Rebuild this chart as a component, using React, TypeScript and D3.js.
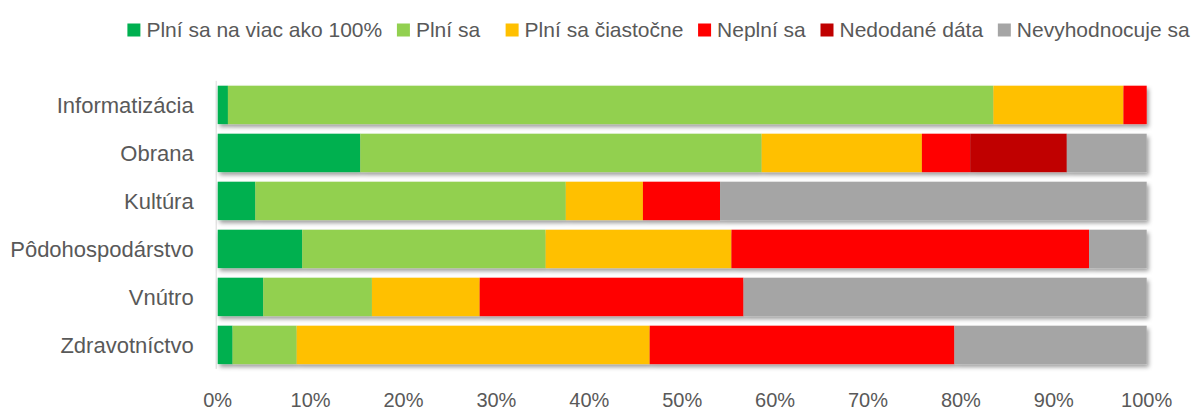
import { useEffect, useRef } from 'react'
import * as d3 from 'd3'

const categories = ['Informatizácia', 'Obrana', 'Kultúra', 'Pôdohospodárstvo', 'Vnútro', 'Zdravotníctvo']

const seriesNames = [
  'Plní sa na viac ako 100%',
  'Plní sa',
  'Plní sa čiastočne',
  'Neplní sa',
  'Nedodané dáta',
  'Nevyhodnocuje sa',
]

const seriesColors = ['#00B050', '#92D050', '#FFC000', '#FF0000', '#C00000', '#A5A5A5']

// per category, in series order (percent)
const overHundred = [1.1, 15.35, 4.05, 9.1, 4.9, 1.6]
const fulfilled = [82.4, 43.2, 33.4, 26.2, 11.7, 6.9]
const partial = [14.0, 17.25, 8.3, 20.0, 11.6, 38.0]
const notFulfilled = [2.5, 5.2, 8.3, 38.5, 28.4, 32.8]
const notDelivered = [0, 10.4, 0, 0, 0, 0]
const notEvaluated = [0, 8.6, 45.9, 6.2, 43.4, 20.7]

const xTicks = [0, 0.1, 0.2, 0.3, 0.4, 0.5, 0.6, 0.7, 0.8, 0.9, 1]

const W = 1196
const H = 407
const FONT = '"Liberation Sans", Arial, sans-serif'
const TEXT = '#595959'

export default function App() {
  const legendRef = useRef<SVGGElement>(null)

  const rows = categories.map((c, i) => ({
    cat: c,
    s0: overHundred[i],
    s1: fulfilled[i],
    s2: partial[i],
    s3: notFulfilled[i],
    s4: notDelivered[i],
    s5: notEvaluated[i],
  }))
  const keys = ['s0', 's1', 's2', 's3', 's4', 's5']
  const stacked = d3.stack<any>().keys(keys).offset(d3.stackOffsetExpand)(rows)

  const x = d3.scaleLinear().domain([0, 1]).range([217.7, 1146.7])
  const y = d3.scaleBand().domain(categories).range([80.9, 368.9]).paddingInner(0.2).paddingOuter(0.1)

  useEffect(() => {
    document.body.style.margin = '0'
    if (!legendRef.current) return
    const g = d3.select(legendRef.current)
    g.selectAll('*').remove()
    let cx = 127.4
    seriesNames.forEach((name, i) => {
      g.append('rect').attr('x', cx).attr('y', 23.5).attr('width', 13).attr('height', 13).attr('fill', seriesColors[i])
      const t = g.append('text').attr('x', cx + 19).attr('y', 37)
        .attr('font-family', FONT).attr('font-size', 21).attr('fill', TEXT).text(name)
      const w = (t.node() as SVGTextElement).getComputedTextLength()
      // Excel leaves a wider gap after the short "Plní sa" entry
      cx += 19 + w + (i === 1 ? 25.5 : 14.7)
    })
  }, [])

  return (
    <svg width={W} height={H} style={{ display: 'block' }}>
      <defs>
        <filter id="shadow" x="-5%" y="-30%" width="110%" height="170%">
          <feDropShadow dx="2" dy="3" stdDeviation="2.2" floodColor="#000" floodOpacity="0.38" />
        </filter>
      </defs>
      <rect width={W} height={H} fill="#fff" />
      <g ref={legendRef} />
      <line x1={x(0) - 1.5} x2={x(0) - 1.5} y1={y.range()[0]} y2={y.range()[1]} stroke="#D9D9D9" strokeWidth={1} />
      {categories.map((c, i) => (
        <g key={c} filter="url(#shadow)">
          {stacked.map((s, k) => {
            const d = s[i]
            const w = x(d[1]) - x(d[0])
            if (w <= 0) return null
            return (
              <rect key={k} x={x(d[0])} y={y(c)} width={w} height={y.bandwidth()} fill={seriesColors[k]} />
            )
          })}
        </g>
      ))}
      {categories.map(c => (
        <text key={c} x={x(0) - 24} y={(y(c) ?? 0) + y.bandwidth() / 2} dy="0.36em" textAnchor="end"
          fontFamily={FONT} fontSize={22} fill={TEXT}>{c}</text>
      ))}
      {xTicks.map(t => (
        <text key={t} x={x(t)} y={407} textAnchor="middle" fontFamily={FONT} fontSize={20} fill={TEXT}>
          {d3.format('.0%')(t)}
        </text>
      ))}
    </svg>
  )
}
